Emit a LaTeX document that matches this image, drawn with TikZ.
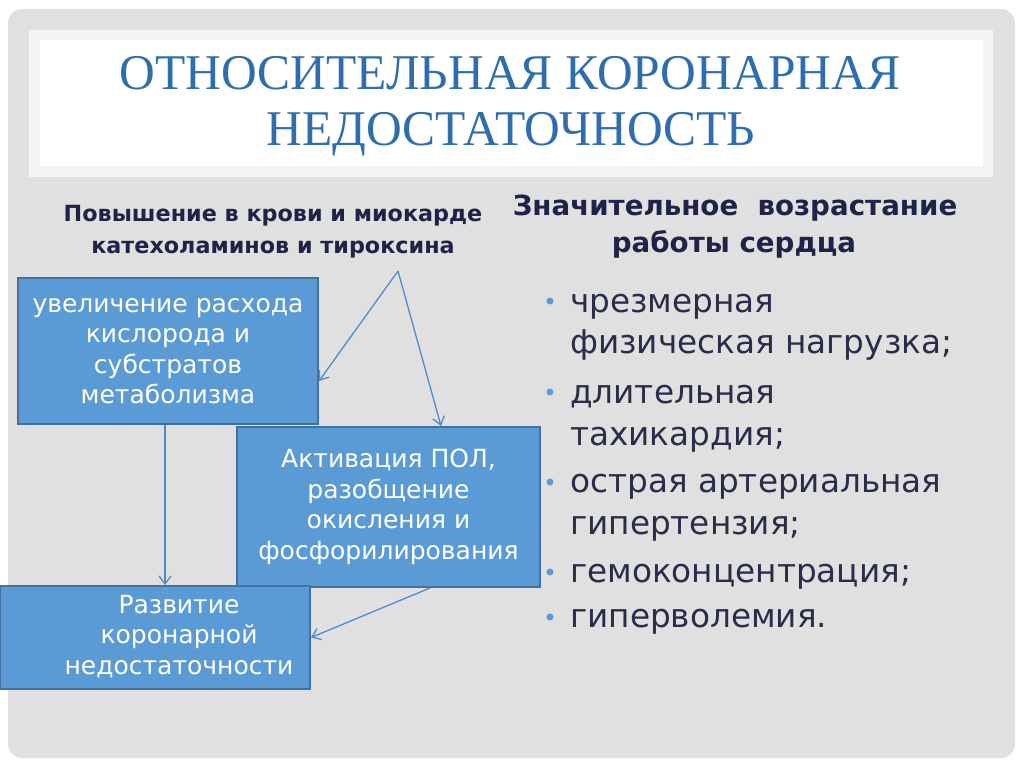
\documentclass[tikz,border=0pt]{standalone}
\usepackage{fontspec}
\setmainfont{DejaVu Sans}
\newfontfamily\titlefont[FakeStretch=0.99]{Liberation Serif}
\usetikzlibrary{arrows.meta}
\definecolor{panelgray}{HTML}{E0E0E0}
\definecolor{bandgray}{HTML}{F4F4F4}
\definecolor{titleblue}{HTML}{2F6EAE}
\definecolor{navy}{HTML}{1E2347}
\definecolor{bodytext}{HTML}{2A2D4A}
\definecolor{boxfill}{HTML}{5B9BD5}
\definecolor{boxline}{HTML}{41719C}
\definecolor{arrowblue}{HTML}{4F8CCB}
\tikzset{
  titletext/.style={text=titleblue, inner sep=0, anchor=base, font=\titlefont\fontsize{50}{56}\selectfont},
  headl/.style={text=navy, inner sep=0, anchor=base, font=\bfseries\fontsize{22.3}{25}\selectfont},
  headr/.style={text=navy, inner sep=0, anchor=base, font=\bfseries\fontsize{27.7}{30}\selectfont},
  bul/.style={text=bodytext, inner sep=0, anchor=base west, font=\fontsize{32.7}{36}\selectfont},
  dot/.style={circle, fill=boxfill, inner sep=0, minimum size=7},
  box/.style={draw=boxline, line width=2, fill=boxfill, text=white, inner sep=0, align=center,
    font=\fontsize{25}{30.5}\selectfont},
  conn/.style={draw=arrowblue, line width=1.3, -{Straight Barb[length=8,width=12]}},
}
\begin{document}
\begin{tikzpicture}[x=1pt,y=-1pt]
\useasboundingbox (0,0) rectangle (1024,767);
\fill[white] (0,0) rectangle (1024,767);
\fill[panelgray, rounded corners=14] (8,9) rectangle (1015,758);
\fill[bandgray] (29,30) rectangle (993,177);
\fill[white] (40,40) rectangle (983,166);
\node[titletext] (t1) at (510,90) {ОТНОСИТЕЛЬНАЯ КОРОНАРНАЯ};
\node[titletext] (t2) at (511,146) {НЕДОСТАТОЧНОСТЬ};

\node[headl] (hl1) at (273,222) {Повышение в крови и миокарде};
\node[headl] (hl2) at (273,253) {катехоламинов и тироксина};
\node[headr] (hr1) at (735,215) {Значительное\ \ возрастание};
\node[headr] (hr2) at (734,252) {работы сердца};

\node[bul] (b1a) at (570,312) {чрезмерная};
\node[bul] (b1b) at (570,353) {физическая нагрузка;};
\node[bul] (b2a) at (570,403) {длительная};
\node[bul] (b2b) at (570,445) {тахикардия;};
\node[bul] (b3a) at (570,492) {острая артериальная};
\node[bul] (b3b) at (570,534) {гипертензия;};
\node[bul] (b4a) at (570,582) {гемоконцентрация;};
\node[bul] (b5a) at (570,627) {гиперволемия.};
\node[dot] (d1) at (550,301) {};
\node[dot] (d2) at (550,392) {};
\node[dot] (d3) at (550,482) {};
\node[dot] (d4) at (550,572) {};
\node[dot] (d5) at (550,617) {};

\node[box, minimum width=300, minimum height=146] (k1) at (168,351)
  {увеличение расхода\\кислорода и\\субстратов\\метаболизма};
\node[box, minimum width=303, minimum height=160] (k2) at (388.5,507)
  {Активация ПОЛ,\\разобщение\\окисления и\\фосфорилирования};
\node[box, minimum width=310, minimum height=103] (k3) at (155,637.5)
  {\hspace*{48pt}\begin{tabular}{@{}c@{}}Развитие\\коронарной\\недостаточности\end{tabular}};

\coordinate (apex) at (398,271);
\draw[conn] (apex) -- ([yshift=-30pt]k1.east);
\draw[conn] (apex) -- ([xshift=52.5pt]k2.north);
\draw[conn] ([xshift=-3pt]k1.south) -- ([xshift=10pt]k3.north);
\draw[conn] ([xshift=41.5pt]k2.south) -- (k3.east);
\end{tikzpicture}
\end{document}
